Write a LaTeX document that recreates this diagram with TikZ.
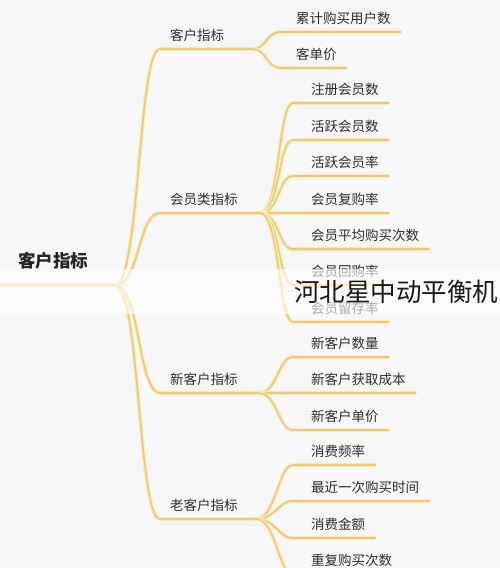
\documentclass[tikz,border=0pt]{standalone}
\usepackage{fontspec}
\newfontfamily\cjk{Noto Sans CJK SC}
\definecolor{bg}{HTML}{F7F7F9}
\definecolor{txt}{HTML}{2E2E2E}
\definecolor{lineA}{HTML}{EBCB72}
\definecolor{lineH}{HTML}{F6EAC2}
\tikzset{
  leaf/.style={anchor=base west, inner sep=0pt, text=txt, font=\cjk\fontsize{13.5}{16}\selectfont},
  cat/.style={anchor=base west, inner sep=0pt, text=txt, font=\cjk\fontsize{13.5}{16}\selectfont},
  rootlbl/.style={anchor=base west, inner sep=0pt, text=txt!80!black, font=\cjk\bfseries\fontsize{17.5}{20}\selectfont},
  branch/.style={draw=lineA, line width=1.6pt, line cap=round, preaction={draw=lineH, line width=4pt}},
  wmark/.style={anchor=base west, inner sep=0pt, text=black!90, font=\cjk\fontsize{25.5}{28}\selectfont}
}
\begin{document}
\begin{tikzpicture}[x=1pt,y=-1pt]
\useasboundingbox (0,0) rectangle (500,568);
\fill[bg] (0,0) rectangle (500,568);

% root
\node[rootlbl] (root) at (18,267) {客户指标};
\coordinate (rs) at (0,285);
\coordinate (rf) at (115,285);

% level 1
\node[cat] (c1) at (170,40) {客户指标};
\node[cat] (c2) at (170,204) {会员类指标};
\node[cat] (c3) at (170,384) {新客户指标};
\node[cat] (c4) at (170,510) {老客户指标};
\coordinate (c1s) at (160,49);  \coordinate (c1f) at (253,49);
\coordinate (c2s) at (160,213); \coordinate (c2f) at (260,213);
\coordinate (c3s) at (160,393); \coordinate (c3f) at (258,393);
\coordinate (c4s) at (160,519); \coordinate (c4f) at (256,519);

% leaves group 1
\node[leaf] (a1) at (296,23) {累计购买用户数};
\node[leaf] (a2) at (296,59) {客单价};
\coordinate (a1s) at (280,32); \coordinate (a2s) at (280,68);

% leaves group 2
\node[leaf] (b1) at (311,94) {注册会员数};
\node[leaf] (b2) at (311,131) {活跃会员数};
\node[leaf] (b3) at (311,167) {活跃会员率};
\node[leaf] (b4) at (311,204) {会员复购率};
\node[leaf] (b5) at (311,240) {会员平均购买次数};
\node[leaf] (b6) at (311,276) {会员回购率};
\node[leaf] (b7) at (311,313) {会员留存率};
\coordinate (b1s) at (293,103);
\coordinate (b2s) at (293,140);
\coordinate (b3s) at (293,176);
\coordinate (b4s) at (293,213);
\coordinate (b5s) at (293,249);
\coordinate (b6s) at (293,285);
\coordinate (b7s) at (293,322);

% leaves group 3
\node[leaf] (d1) at (311,348) {新客户数量};
\node[leaf] (d2) at (311,384) {新客户获取成本};
\node[leaf] (d3) at (311,421) {新客户单价};
\coordinate (d1s) at (293,357);
\coordinate (d2s) at (293,393);
\coordinate (d3s) at (293,430);

% leaves group 4
\node[leaf] (e1) at (311,456) {消费频率};
\node[leaf] (e2) at (311,492) {最近一次购买时间};
\node[leaf] (e3) at (311,529) {消费金额};
\node[leaf] (e4) at (311,565) {重复购买次数};
\coordinate (e1s) at (293,465);
\coordinate (e2s) at (293,501);
\coordinate (e3s) at (293,538);
\coordinate (e4s) at (293,574);

% connectors
\draw[branch] (rs) -- (rf);
\foreach \c in {c1,c2,c3,c4}{
  \draw[branch] (rf) .. controls +(25,0) and +(-22,0) .. (\c s) -- (\c f);
}
\foreach \l in {a1,a2}{
  \draw[branch] (c1f) .. controls +(13,0) and +(-13,0) .. (\l s) -- (\l s -| \l.east) -- ++(10,0);
}
\foreach \l in {b1,b2,b3,b4,b5,b6,b7}{
  \draw[branch] (c2f) .. controls +(20,0) and +(-15,0) .. (\l s) -- (\l s -| \l.east) -- ++(10,0);
}
\foreach \l in {d1,d2,d3}{
  \draw[branch] (c3f) .. controls +(20,0) and +(-15,0) .. (\l s) -- (\l s -| \l.east) -- ++(10,0);
}
\foreach \l in {e1,e2,e3,e4}{
  \draw[branch] (c4f) .. controls +(20,0) and +(-15,0) .. (\l s) -- (\l s -| \l.east) -- ++(10,0);
}

% watermark band
\fill[white, opacity=0.6] (0,269) rectangle (500,314);
\node[wmark] (wm) at (294,301) {河北星中动平衡机};
\end{tikzpicture}
\end{document}
